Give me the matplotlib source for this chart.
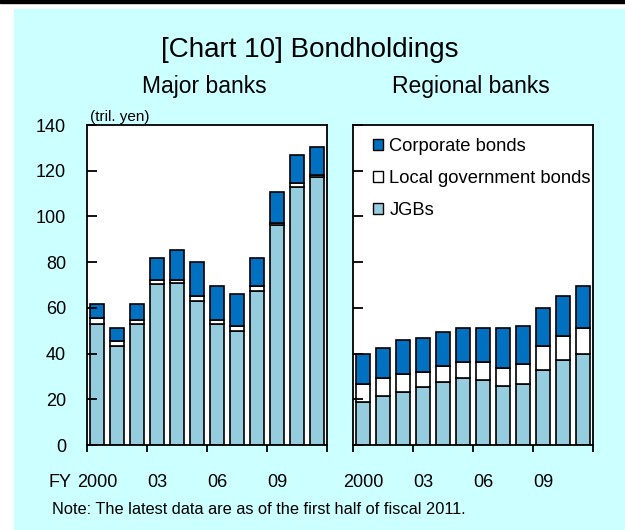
import numpy as np
import matplotlib
matplotlib.use("Agg")
import matplotlib.pyplot as plt
from matplotlib.patches import Rectangle, Patch
import matplotlib.transforms as mtransforms

plt.rcParams["font.family"] = ["Liberation Sans", "DejaVu Sans"]

# ── data (tril. yen), FY2000 .. FY2011 (latest = first half of FY2011) ──────
years = list(range(2000, 2012))
label_years = [2000, 2003, 2006, 2009]
label_text = ["2000", "03", "06", "09"]

major_jgb   = [53.0, 43.3, 52.8, 70.3, 70.8, 63.1, 52.8, 50.0, 67.5, 96.1, 112.7, 117.1]
major_local = [2.6, 2.1, 2.0, 1.7, 1.5, 2.1, 1.7, 1.9, 2.0, 1.2, 1.9, 1.2]
major_corp  = [6.2, 5.8, 7.0, 9.7, 12.9, 14.8, 15.0, 14.1, 12.2, 13.2, 12.4, 12.2]

reg_jgb   = [18.8, 21.5, 23.3, 25.2, 27.5, 29.4, 28.4, 25.9, 26.6, 32.9, 37.2, 39.9]
reg_local = [7.8, 7.9, 7.8, 6.8, 7.0, 7.0, 8.0, 7.8, 8.9, 10.4, 10.5, 11.2]
reg_corp  = [13.4, 13.2, 15.0, 15.0, 15.1, 14.8, 14.8, 17.5, 16.6, 16.5, 17.5, 18.6]

C_BG    = "#CCFFFF"
C_JGB   = "#96CDDE"
C_LOCAL = "#FFFFFF"
C_CORP  = "#0070C0"

W, H = 625, 530
TICK_FS = 13
XPAD = 21
fig = plt.figure(figsize=(W / 100, H / 100), dpi=100, facecolor="white")

# background panel + top rule
fig.patches.append(Rectangle((14 / W, 0), 1 - 14 / W, 1 - 9 / H,
                             transform=fig.transFigure, color=C_BG, zorder=-10))
fig.patches.append(Rectangle((0, 1 - 3 / H), 1, 3 / H,
                             transform=fig.transFigure, color="black", zorder=-9))

ax_l = fig.add_axes([87 / W, 1 - 445 / H, 240 / W, 320 / H])
ax_r = fig.add_axes([353 / W, 1 - 445 / H, 240 / W, 320 / H])


def draw_panel(ax, jgb, local, corp, show_ylabels):
    x = np.arange(len(years))
    jgb, local, corp = map(np.array, (jgb, local, corp))
    kw = dict(width=0.72, edgecolor="black", linewidth=1.2)
    ax.bar(x, jgb, color=C_JGB, **kw)
    ax.bar(x, local, bottom=jgb, color=C_LOCAL, **kw)
    ax.bar(x, corp, bottom=jgb + local, color=C_CORP, **kw)

    ax.set_xlim(-0.5, len(years) - 0.5)
    ax.set_ylim(0, 140)
    ax.set_facecolor("white")
    for s in ax.spines.values():
        s.set_linewidth(1.3)

    # boundary ticks (major) every 3 years, labels at bar centres (minor)
    ax.set_xticks(np.arange(-0.5, len(years), 3))
    ax.set_xticklabels([])
    ax.tick_params(axis="x", which="major", direction="out", length=5, width=1.3)
    ax.set_xticks([years.index(y) for y in label_years], minor=True)
    ax.set_xticklabels(label_text, minor=True, fontsize=TICK_FS)
    ax.tick_params(axis="x", which="minor", length=0, pad=XPAD)

    ax.set_yticks(np.arange(0, 141, 20))
    ax.tick_params(axis="y", direction="in", length=7, width=1.3, pad=15,
                   labelsize=TICK_FS, labelleft=show_ylabels)


draw_panel(ax_l, major_jgb, major_local, major_corp, True)
draw_panel(ax_r, reg_jgb, reg_local, reg_corp, False)

# "FY" prefix before the first year label, aligned with the tick labels
trans = mtransforms.blended_transform_factory(ax_l.transData, ax_l.transAxes)
ax_l.annotate("FY", xy=(0, 0), xycoords=trans, xytext=(-18.5, -XPAD),
              textcoords="offset points", ha="right", va="top",
              fontsize=TICK_FS)

handles = [Patch(facecolor=C_CORP, edgecolor="black", label="Corporate bonds"),
           Patch(facecolor=C_LOCAL, edgecolor="black", label="Local government bonds"),
           Patch(facecolor=C_JGB, edgecolor="black", label="JGBs")]
ax_r.legend(handles=handles, loc="upper left", bbox_to_anchor=(0.083, 0.958),
            frameon=False, fontsize=13.2, handlelength=0.55, handleheight=0.55,
            handletextpad=0.35, labelspacing=0.8, borderpad=0, borderaxespad=0)

fig.text(310 / W, 1 - 50 / H, "[Chart 10] Bondholdings", ha="center", va="center",
         fontsize=20)
fig.text(204 / W, 1 - 87 / H, "Major banks", ha="center", va="center", fontsize=16.5)
fig.text(471 / W, 1 - 87 / H, "Regional banks", ha="center", va="center", fontsize=16.5)
fig.text(90 / W, 1 - 124 / H, "(tril. yen)", ha="left", va="bottom", fontsize=11)
fig.text(52 / W, 1 - 510 / H,
         "Note: The latest data are as of the first half of fiscal 2011.",
         ha="left", va="center", fontsize=11.8)

fig.savefig("out.png", dpi=100)
